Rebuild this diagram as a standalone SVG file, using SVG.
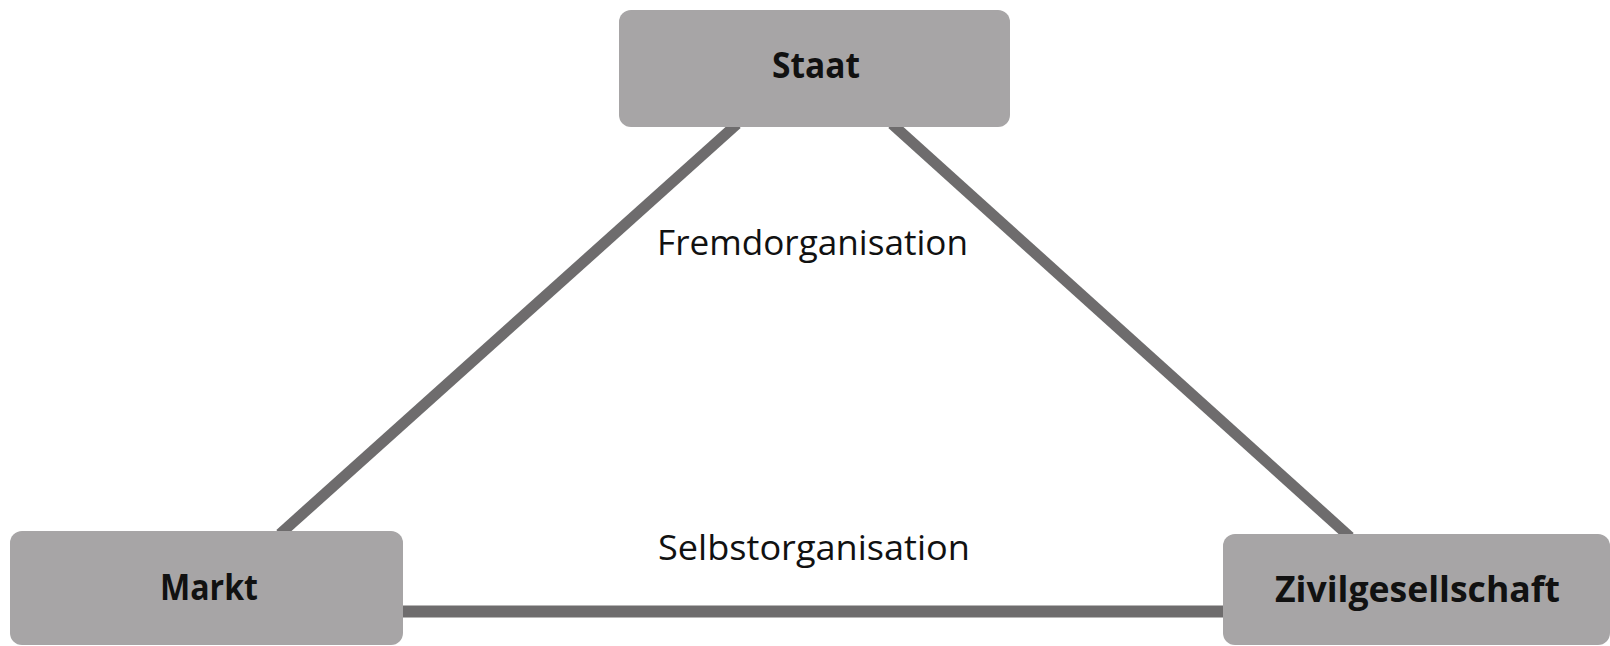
<svg xmlns="http://www.w3.org/2000/svg" width="1610" height="646" viewBox="0 0 1610 646">
  <style>
    .box { fill: #a7a5a6; }
    .lbl { font-family: "Open Sans", "Noto Sans", "Liberation Sans", sans-serif; font-weight: bold; font-size: 35px; fill: #111111; text-anchor: middle; }
    .txt { font-family: "Open Sans", "Noto Sans", "Liberation Sans", sans-serif; font-size: 34px; fill: #111111; }
    .edge { stroke: #6e6c6d; stroke-width: 11; fill: none; }
    .base { stroke: #6e6c6d; stroke-width: 12; fill: none; }
  </style>
  <rect width="1610" height="646" fill="#ffffff"/>
  <g id="connectors">
    <line class="edge" x1="737" y1="124" x2="280" y2="534"/>
    <line class="edge" x1="892" y1="124" x2="1350" y2="537"/>
    <line class="base" x1="400" y1="611.5" x2="1226" y2="611.5"/>
  </g>
  <g id="staat">
    <rect class="box" x="619" y="10" width="391" height="117" rx="12"/>
    <text class="lbl" x="816" y="78" textLength="88" lengthAdjust="spacingAndGlyphs">Staat</text>
  </g>
  <g id="markt">
    <rect class="box" x="10" y="531" width="393" height="114" rx="12"/>
    <text class="lbl" x="209" y="600" textLength="98" lengthAdjust="spacingAndGlyphs">Markt</text>
  </g>
  <g id="zivilgesellschaft">
    <rect class="box" x="1223" y="534" width="387" height="111" rx="12"/>
    <text class="lbl" x="1417.5" y="602" textLength="285" lengthAdjust="spacingAndGlyphs">Zivilgesellschaft</text>
  </g>
  <g id="labels">
    <text class="txt" x="657" y="255" textLength="311" lengthAdjust="spacingAndGlyphs">Fremdorganisation</text>
    <text class="txt" x="658" y="560" textLength="312" lengthAdjust="spacingAndGlyphs">Selbstorganisation</text>
  </g>
</svg>
